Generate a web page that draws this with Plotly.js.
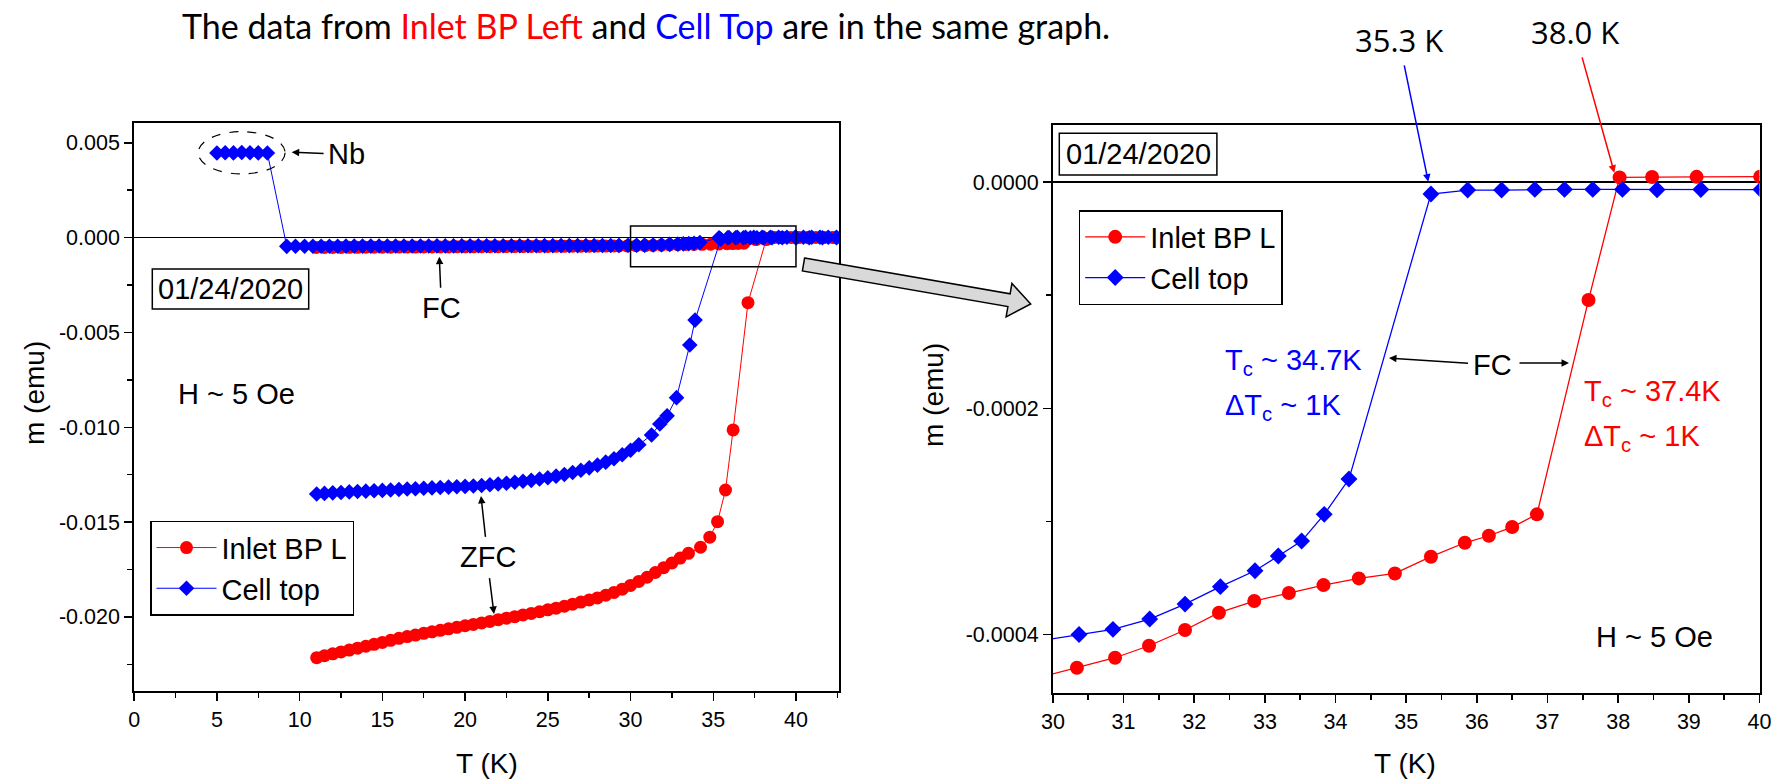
<!DOCTYPE html>
<html><head><meta charset="utf-8">
<script src="https://cdn.plot.ly/plotly-3.0.1.min.js"></script>
<style>html,body{margin:0;padding:0;background:#fff}#chart{width:1783px;height:779px}</style>
</head><body><div id="chart"></div>
<script>
// ---------------- DATA ----------------
// Cell top, field-cooled (incl. Nb signal at low T)
const blueFC_T = [5.0,5.5,6.0,6.5,7.0,7.5,8.05,
  9.22,9.75,10.3,10.8,11.3,11.8,12.3,12.8,13.3,13.8,14.3,14.8,15.3,15.8,16.3,16.8,17.3,17.8,18.3,18.8,
  19.3,19.8,20.3,20.8,21.3,21.8,22.3,22.8,23.3,23.8,24.3,24.8,25.3,25.8,26.3,26.8,27.3,27.8,28.3,28.8,29.3,29.85,
  30.37,30.85,31.37,31.87,32.37,32.86,33.19,33.52,33.84,34.19,35.35,35.87,36.35,36.82,37.24,37.64,38.06,38.55,39.17,40.02,
  40.8,41.6,42.45];
const blueFC_m = [0.00446,0.00448,0.00447,0.00449,0.00448,0.00447,0.00446,
  -0.000460,-0.000458,-0.000457,-0.000455,-0.000454,-0.000452,-0.000451,-0.000450,-0.000448,-0.000447,-0.000446,-0.000445,-0.000444,-0.000442,-0.000441,-0.000440,-0.000439,-0.000438,-0.000436,-0.000435,
  -0.000434,-0.000433,-0.000432,-0.000431,-0.000430,-0.000429,-0.000428,-0.000427,-0.000426,-0.000425,-0.000424,-0.000423,-0.000422,-0.000421,-0.000420,-0.000419,-0.000417,-0.000416,-0.000414,-0.000412,-0.000410,-0.000405,
  -0.0003998,-0.0003953,-0.0003862,-0.0003730,-0.0003576,-0.0003435,-0.0003305,-0.0003173,-0.0002937,-0.0002625,-0.0000106,-0.0000071,-0.0000071,-0.0000065,-0.0000065,-0.0000065,-0.0000065,-0.0000068,-0.0000066,-0.0000067,
  -0.0000070,-0.0000070,-0.0000070];

// Inlet BP L, field-cooled
const redFC_T = [11.0,11.5,12.0,12.5,13.0,13.5,14.0,14.5,15.0,15.5,16.0,16.5,17.0,17.5,18.0,18.5,19.0,19.5,20.0,20.5,
  21.0,21.5,22.0,22.5,23.0,23.5,24.0,24.5,25.0,25.5,26.0,26.5,27.0,27.5,28.0,28.5,29.0,29.3,29.8,
  30.34,30.88,31.36,31.87,32.35,32.85,33.34,33.83,34.33,34.84,35.35,35.83,36.17,36.50,36.85,37.58,38.02,38.48,39.11,40.01,
  40.8,41.6,42.4];
const redFC_m = [-0.000520,-0.000518,-0.000516,-0.000514,-0.000512,-0.000510,-0.000508,-0.000506,-0.000504,-0.000502,
  -0.000500,-0.000498,-0.000496,-0.000494,-0.000492,-0.000490,-0.000488,-0.000486,-0.000484,-0.000482,
  -0.000480,-0.000478,-0.000476,-0.000474,-0.000471,-0.000469,-0.000466,-0.000464,-0.000461,-0.000459,
  -0.000456,-0.000453,-0.000451,-0.000448,-0.000446,-0.000444,-0.000442,-0.000440,-0.000438,
  -0.0004292,-0.0004204,-0.0004098,-0.0003959,-0.0003806,-0.0003703,-0.0003632,-0.0003562,-0.0003503,-0.0003459,-0.0003311,-0.0003188,-0.0003126,-0.0003049,-0.0002937,-0.0001043,0.0000041,0.0000045,0.0000046,0.0000047,
  0.0000047,0.0000047,0.0000047];

// Cell top, zero-field-cooled
const blueZFC_T = [11.03,11.5,12.0,12.5,13.0,13.5,14.0,14.5,15.0,15.5,16.0,16.5,17.0,17.5,18.0,18.5,19.0,19.5,20.0,20.5,
  21.0,21.5,22.0,22.5,23.0,23.5,24.0,24.5,25.0,25.5,26.0,26.5,27.0,27.5,28.0,28.5,29.0,29.5,30.0,30.5,
  31.27,31.77,32.21,32.78,33.58,33.90,35.45,35.95,36.45,36.95,37.45,37.95,38.45,38.95,39.45,39.95,40.45,40.95,41.45,41.95,42.45];
const blueZFC_m = [-0.01352,-0.01349,-0.01346,-0.01344,-0.01341,-0.01339,-0.01337,-0.01335,-0.01333,-0.01331,
  -0.01328,-0.01326,-0.01324,-0.01322,-0.01320,-0.01318,-0.01316,-0.01314,-0.01312,-0.01310,
  -0.01307,-0.01303,-0.01299,-0.01295,-0.01290,-0.01285,-0.01280,-0.01273,-0.01266,-0.01258,
  -0.01249,-0.01239,-0.01227,-0.01214,-0.01200,-0.01184,-0.01166,-0.01145,-0.01121,-0.01092,
  -0.01041,-0.00983,-0.00940,-0.00844,-0.00566,-0.00435,-0.00008,0.00001,0.00002,0.00002,0.00002,0.00002,0.00002,0.00002,0.00002,0.00002,0.00002,0.00002,0.00002,0.00002,0.00002];

// Inlet BP L, zero-field-cooled
const redZFC_T = [11.03,11.5,12.0,12.5,13.0,13.5,14.0,14.5,15.0,15.5,16.0,16.5,17.0,17.5,18.0,18.5,19.0,19.5,20.0,20.5,
  21.0,21.5,22.0,22.5,23.0,23.5,24.0,24.5,25.0,25.5,26.0,26.5,27.0,27.5,28.0,28.5,29.0,29.5,30.0,30.5,
  31.0,31.5,32.0,32.5,33.0,33.5,34.23,34.79,35.26,35.74,36.20,37.10,38.20,38.70,39.20,39.70,40.20,40.70,41.20,41.70,42.20];
const redZFC_m = [-0.02215,-0.02205,-0.02195,-0.02185,-0.02175,-0.02165,-0.02155,-0.02145,-0.02135,-0.02124,
  -0.02113,-0.02104,-0.02096,-0.02087,-0.02079,-0.02071,-0.02063,-0.02055,-0.02047,-0.02040,
  -0.02032,-0.02024,-0.02015,-0.02007,-0.01999,-0.01990,-0.01982,-0.01973,-0.01963,-0.01954,
  -0.01944,-0.01933,-0.01922,-0.01911,-0.01900,-0.01886,-0.01871,-0.01854,-0.01834,-0.01813,
  -0.01791,-0.01766,-0.01741,-0.01716,-0.01690,-0.01665,-0.01633,-0.01580,-0.01498,-0.01331,-0.01014,-0.00343,-0.00010,0.00001,0.00001,0.00001,0.00001,0.00001,0.00001,0.00001,0.00001];

const seriesNames = ['Inlet BP L','Cell top'];
const leftXTicks = [0,5,10,15,20,25,30,35,40];
const leftXTickText = ['0','5','10','15','20','25','30','35','40'];
const leftYTicks = [0.005,0,-0.005,-0.010,-0.015,-0.020];
const leftYTickText = ['0.005','0.000','-0.005','-0.010','-0.015','-0.020'];
const rightXTicks = [30,31,32,33,34,35,36,37,38,39,40];
const rightXTickText = ['30','31','32','33','34','35','36','37','38','39','40'];
const rightYTicks = [0,-0.0002,-0.0004];
const rightYTickText = ['0.0000','-0.0002','-0.0004'];
const zoomT = [30,40];

// ---------------- LAYOUT HELPERS ----------------
const W = 1783, H = 779;
const px = x => x / W;
const py = y => 1 - y / H;
const RED = '#ff0000', BLUE = '#0000ff';
const FONT = 'Liberation Sans, Arial, sans-serif';

const traces = [
  {x: redFC_T, y: redFC_m, xaxis:'x', yaxis:'y', mode:'lines+markers', showlegend:false,
   line:{color:RED, width:1}, marker:{symbol:'circle', size:13, color:RED}},
  {x: redZFC_T, y: redZFC_m, xaxis:'x', yaxis:'y', mode:'lines+markers', name: seriesNames[0], legend:'legend',
   line:{color:RED, width:1}, marker:{symbol:'circle', size:13, color:RED}},
  {x: blueFC_T, y: blueFC_m, xaxis:'x', yaxis:'y', mode:'lines+markers', showlegend:false,
   line:{color:BLUE, width:1}, marker:{symbol:'diamond', size:12, color:BLUE}},
  {x: blueZFC_T, y: blueZFC_m, xaxis:'x', yaxis:'y', mode:'lines+markers', name: seriesNames[1], legend:'legend',
   line:{color:BLUE, width:1}, marker:{symbol:'diamond', size:12, color:BLUE}},
  {x: redFC_T, y: redFC_m, xaxis:'x2', yaxis:'y2', mode:'lines+markers', name: seriesNames[0], legend:'legend2',
   line:{color:RED, width:1.3}, marker:{symbol:'circle', size:14, color:RED}},
  {x: blueFC_T, y: blueFC_m, xaxis:'x2', yaxis:'y2', mode:'lines+markers', name: seriesNames[1], legend:'legend2',
   line:{color:BLUE, width:1.3}, marker:{symbol:'diamond', size:13, color:BLUE}}
];

const axBase = {showline:true, linecolor:'#000', linewidth:2, mirror:true, showgrid:false, zeroline:false,
  ticks:'outside', ticklen:8, tickwidth:1.5, tickcolor:'#000', tickfont:{family:FONT, size:21.5, color:'#000'},
  tickmode:'array'};

const layout = {
  width: W, height: H, margin:{l:0,r:0,t:0,b:0}, paper_bgcolor:'#fff', plot_bgcolor:'#fff',
  font:{family:FONT, color:'#000'},
  xaxis: Object.assign({}, axBase, {domain:[px(134.2), px(839)], range:[0,42.6], anchor:'y',
    tickvals:leftXTicks, ticktext:leftXTickText,
    minor:{tickmode:'linear', tick0:0, dtick:2.5, ticks:'outside', ticklen:5, tickwidth:1.5, tickcolor:'#000'}}),
  yaxis: Object.assign({}, axBase, {domain:[py(691), py(123.3)], range:[-0.02391,0.00603], anchor:'x',
    tickvals:leftYTicks, ticktext:leftYTickText, zeroline:true, zerolinecolor:'#000', zerolinewidth:1.5,
    minor:{tickmode:'linear', tick0:0, dtick:0.0025, ticks:'outside', ticklen:5, tickwidth:1.5, tickcolor:'#000'}}),
  xaxis2: Object.assign({}, axBase, {domain:[px(1052.9), px(1759.5)], range:zoomT, anchor:'y2',
    tickvals:rightXTicks, ticktext:rightXTickText,
    minor:{tickmode:'linear', tick0:30, dtick:0.5, ticks:'outside', ticklen:5, tickwidth:1.5, tickcolor:'#000'}}),
  yaxis2: Object.assign({}, axBase, {domain:[py(692.7), py(125)], range:[-0.0004513,0.0000504], anchor:'x2',
    tickvals:rightYTicks, ticktext:rightYTickText, zeroline:true, zerolinecolor:'#000', zerolinewidth:1.5,
    minor:{tickmode:'linear', tick0:0, dtick:0.0001, ticks:'outside', ticklen:5, tickwidth:1.5, tickcolor:'#000'}}),
  legend: {x:px(150), y:py(520.7), xanchor:'left', yanchor:'top', bordercolor:'#000', borderwidth:1.5,
    bgcolor:'#fff', font:{family:FONT, size:29}, itemwidth:60, tracegroupgap:0},
  legend2: {x:px(1078.7), y:py(210), xanchor:'left', yanchor:'top', bordercolor:'#000', borderwidth:1.5,
    bgcolor:'#fff', font:{family:FONT, size:29}, itemwidth:60, tracegroupgap:0},
  shapes: [],
  annotations: []
};

// zoom-region box and Nb ellipse on the left panel
layout.shapes.push({type:'rect', xref:'x', yref:'y', x0:zoomT[0], x1:zoomT[1], y0:-0.00153, y1:0.00062, line:{color:'#000', width:1.5}});
layout.shapes.push({type:'circle', xref:'x', yref:'y', x0:3.87, x1:9.12, y0:0.00336, y1:0.00559, line:{color:'#000', width:1.2, dash:'dash'}});
// date boxes
function pbox(x0,y0,x1,y1){ return {type:'rect', xref:'paper', yref:'paper', x0:px(x0), x1:px(x1), y0:py(y1), y1:py(y0), line:{color:'#000', width:1.5}}; }
layout.shapes.push(pbox(152.3,269,308.7,309));
layout.shapes.push(pbox(1059.3,133.3,1216.9,175));
// big grey arrow
(function(){
  const pts = [[804.6,258.1],[1010.1,293.8],[1011.9,283.5],[1030.7,304],[1006.1,316.9],[1007.9,306.6],[802.4,270.9]];
  const d = 'M' + pts.map(p => px(p[0]) + ',' + py(p[1])).join(' L') + ' Z';
  layout.shapes.push({type:'path', xref:'paper', yref:'paper', path:d, fillcolor:'#d9d9d9', line:{color:'#000', width:1.5}});
})();

function txt(t, x, y, opts){
  return Object.assign({text:t, x:px(x), y:py(y), xref:'paper', yref:'paper', showarrow:false,
    xanchor:'center', yanchor:'middle', font:{family:FONT, size:29, color:'#000'}}, opts||{});
}
// text placed at 'at' (center), with an arrow drawn to 'tip'
function txtArr(t, at, tip, color, font){
  return {text:t, x:px(tip[0]), y:py(tip[1]), xref:'paper', yref:'paper', showarrow:true,
    ax: at[0]-tip[0], ay: at[1]-tip[1], axref:'pixel', ayref:'pixel',
    xanchor:'center', yanchor:'middle',
    arrowhead:2, arrowsize:1, arrowwidth:1.5, arrowcolor:color||'#000', standoff:0, startstandoff:3,
    font: font || {family:FONT, size:29, color:'#000'}};
}
function arr(tail, tip, color){
  return {text:'', x:px(tip[0]), y:py(tip[1]), xref:'paper', yref:'paper', showarrow:true,
    ax: tail[0]-tip[0], ay: tail[1]-tip[1], axref:'pixel', ayref:'pixel',
    arrowhead:2, arrowsize:1, arrowwidth:1.5, arrowcolor:color||'#000', standoff:0, startstandoff:0};
}
const A = layout.annotations;
A.push(txt('The data from <span style="color:#ff0000">Inlet BP Left</span> and <span style="color:#0000ff">Cell Top</span> are in the same graph.',
  646, 25, {font:{family:'Lato, sans-serif', size:34, color:'#000'}}));
A.push(txt('01/24/2020', 230.5, 289));
A.push(txt('01/24/2020', 1138, 154));
A.push(txtArr('Nb', [346.6,154.3], [291.7,152.3]));
A.push(txtArr('FC', [441.5,308.3], [439.3,256.7]));
A.push(txt('H ~ 5 Oe', 237, 394));
A.push(txt('H ~ 5 Oe', 1654.4, 636.7));
A.push(txtArr('ZFC', [487.7,557.3], [481,496]));
A.push(txt('T<sub>c</sub> ~ 34.7K', 1223.3, 361.7, {xanchor:'left', font:{family:FONT, size:29, color:BLUE}}));
A.push(txt('ΔT<sub>c</sub> ~ 1K', 1223.3, 406.7, {xanchor:'left', font:{family:FONT, size:29, color:BLUE}}));
A.push(txtArr('FC', [1492,365], [1389,358]));
A.push(txt('T<sub>c</sub> ~ 37.4K', 1582.4, 393.3, {xanchor:'left', font:{family:FONT, size:29, color:RED}}));
A.push(txt('ΔT<sub>c</sub> ~ 1K', 1582.4, 438.3, {xanchor:'left', font:{family:FONT, size:29, color:RED}}));
A.push(txtArr('35.3 K', [1399,40], [1428.3,181.7], BLUE, {family:'Open Sans, sans-serif', size:31, color:'#000'}));
A.push(txtArr('38.0 K', [1575,32], [1614.3,172.7], RED, {family:'Open Sans, sans-serif', size:31, color:'#000'}));
// axis titles
A.push(txt('m (emu)', 34, 393, {textangle:-90, font:{family:FONT, size:28, color:'#000'}}));
A.push(txt('m (emu)', 933, 395, {textangle:-90, font:{family:FONT, size:28, color:'#000'}}));
A.push(txt('T (K)', 487, 763, {font:{family:FONT, size:28, color:'#000'}}));
A.push(txt('T (K)', 1405, 763, {font:{family:FONT, size:28, color:'#000'}}));
// remaining plain arrows
A.push(arr([489.3,576.7],[494,614]));
A.push(arr([1518,363],[1569,363]));

Plotly.newPlot('chart', traces, layout, {displayModeBar:false, staticPlot:true});
</script></body></html>
